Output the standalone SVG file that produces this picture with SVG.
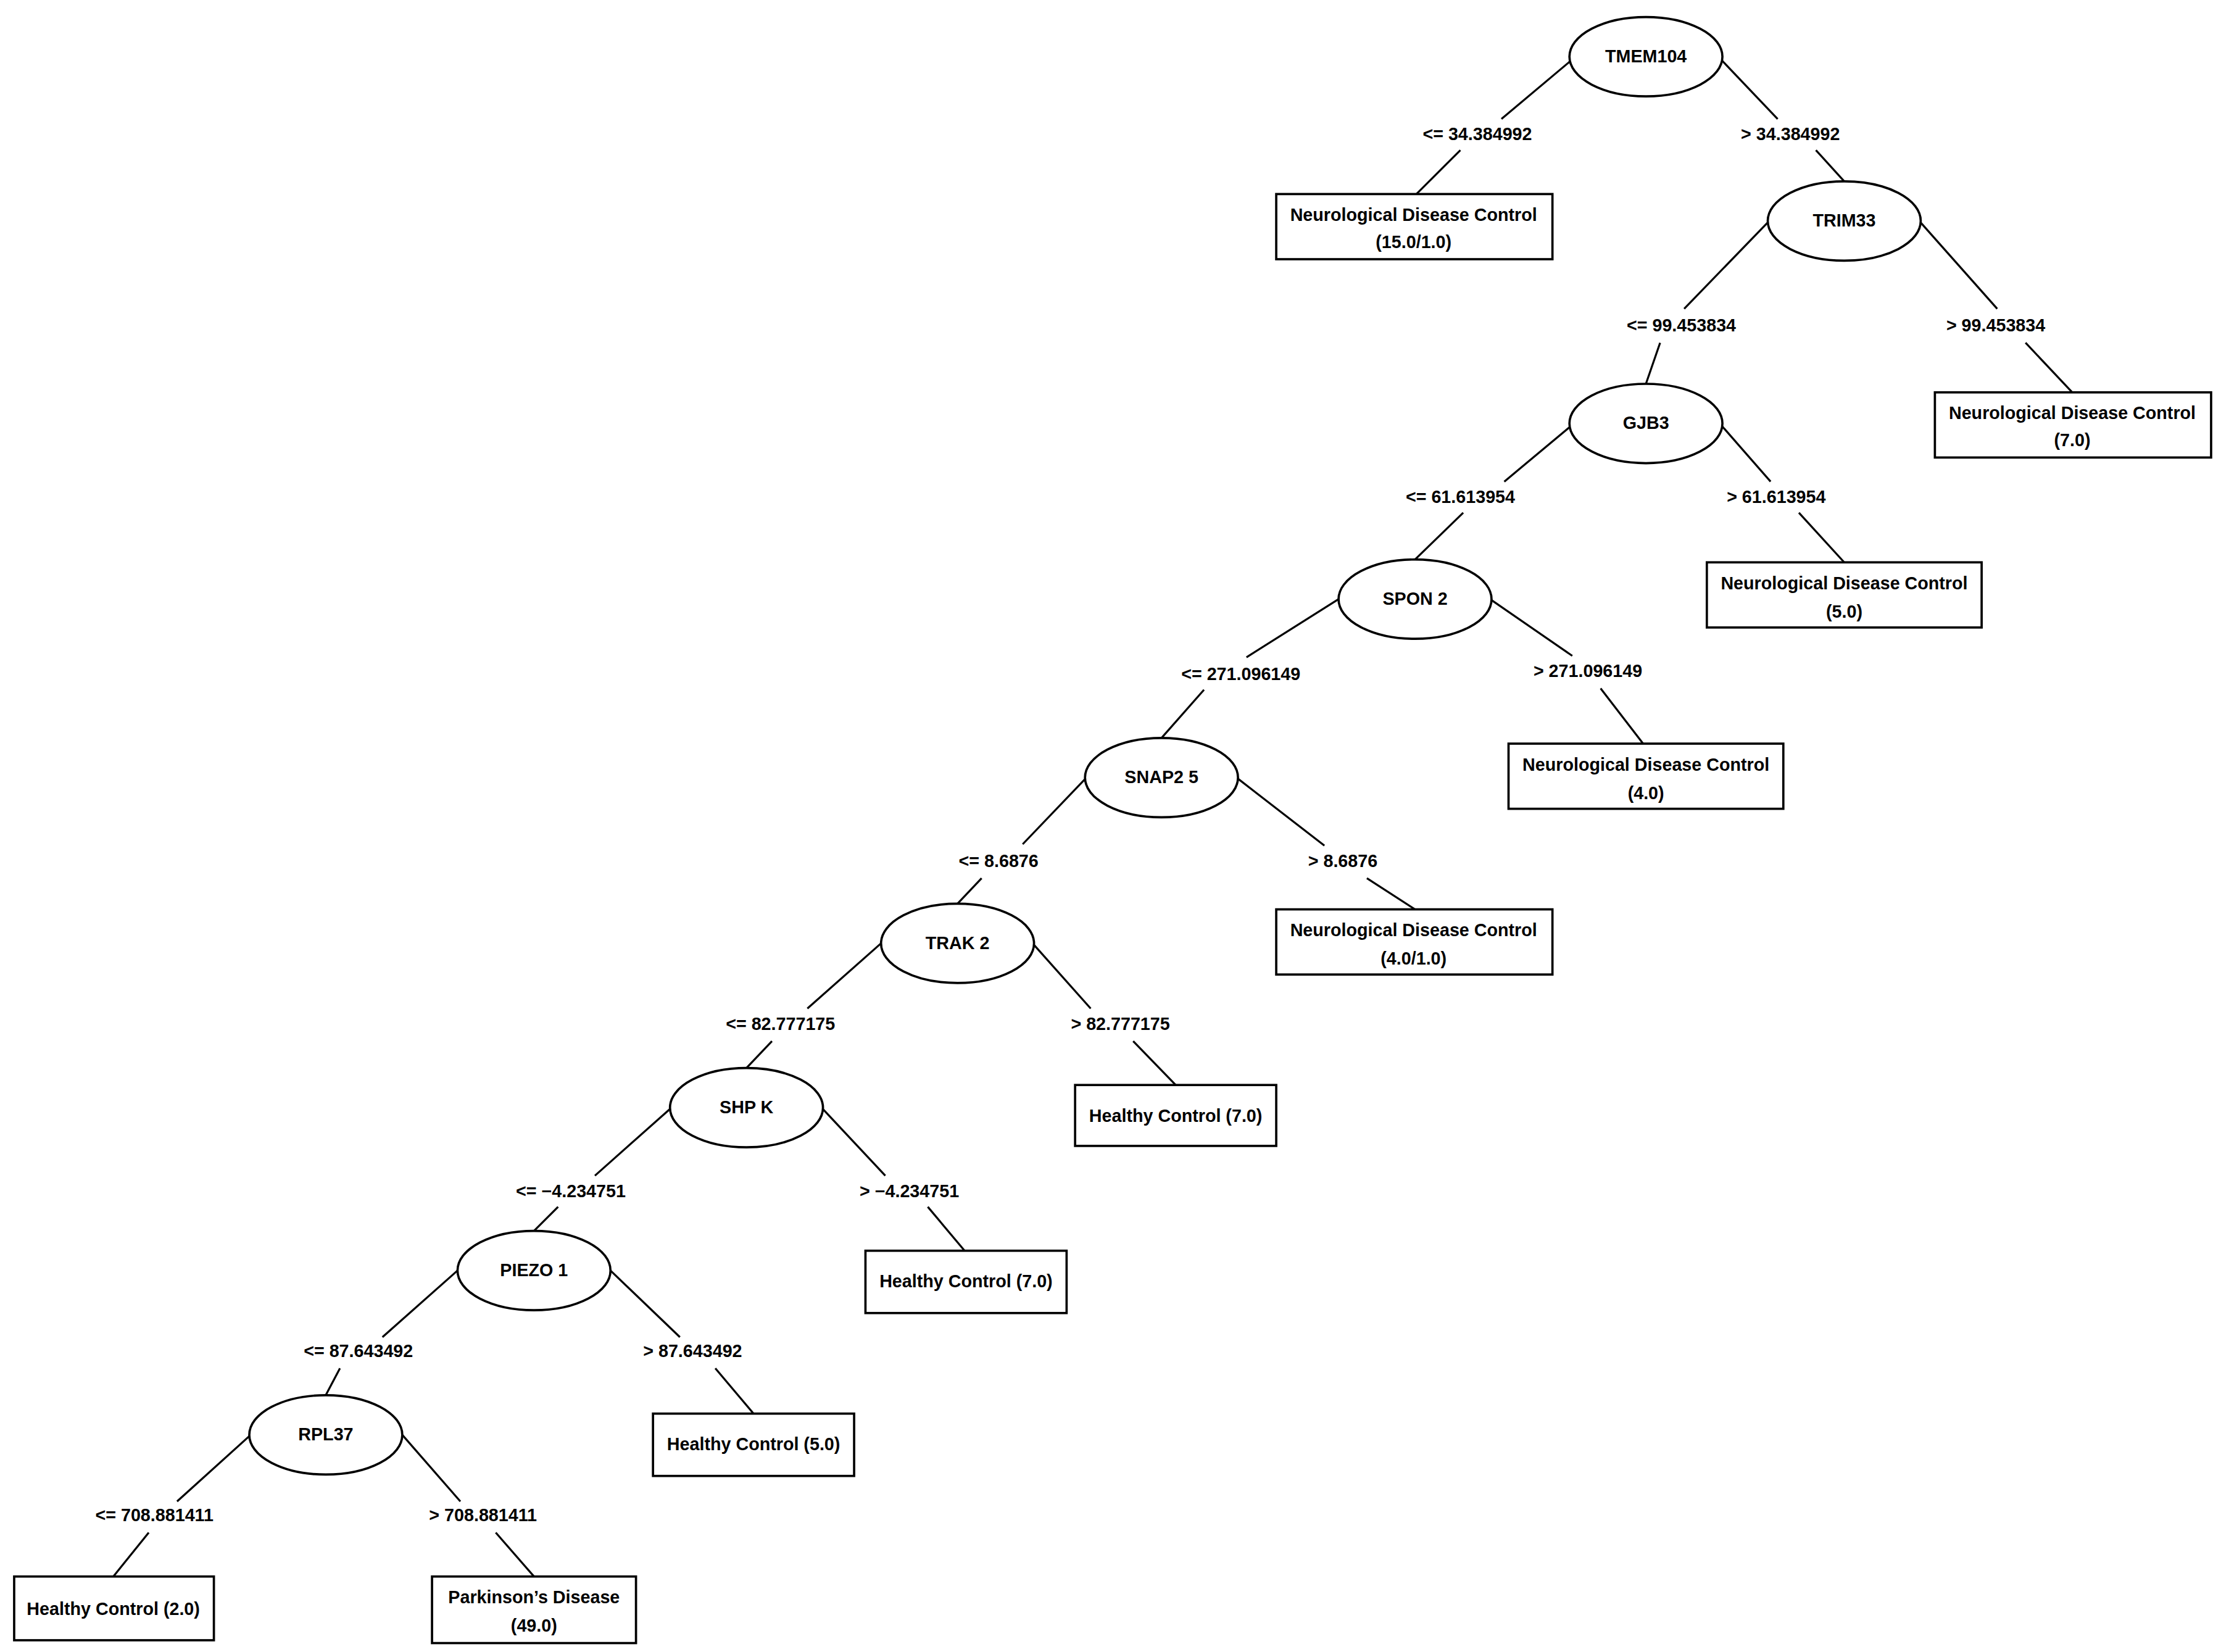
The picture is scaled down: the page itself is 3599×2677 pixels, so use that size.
<svg xmlns="http://www.w3.org/2000/svg" width="3599" height="2677" viewBox="0 0 3599 2677">
<style>
.n ellipse,.n rect{fill:#fff;stroke:#000;stroke-width:1.6}
#edges line{stroke:#000;stroke-width:1.4}
text{font-family:"Liberation Sans Narrow","Liberation Sans",Arial,sans-serif;font-weight:bold;font-size:12.5px;text-anchor:middle;fill:#000}
</style>
<rect width="3599" height="2677" fill="#fff"/>
<g transform="scale(2.2953)">
<g id="edges">
<line x1="1110" y1="42" x2="1060" y2="84"/><line x1="1031" y1="106" x2="1000" y2="137"/>
<line x1="1215" y1="42" x2="1255" y2="84"/><line x1="1282" y1="106" x2="1302" y2="128"/>
<line x1="1249" y1="156" x2="1189" y2="218"/><line x1="1172" y1="242" x2="1162" y2="271"/>
<line x1="1355" y1="156" x2="1410" y2="218"/><line x1="1430" y1="242" x2="1463" y2="277"/>
<line x1="1110" y1="300" x2="1062" y2="340"/><line x1="1033" y1="362" x2="999" y2="395"/>
<line x1="1215" y1="300" x2="1250" y2="340"/><line x1="1270" y1="362" x2="1302" y2="397"/>
<line x1="945" y1="423" x2="880" y2="464"/><line x1="850" y1="487" x2="820" y2="521"/>
<line x1="1052" y1="423" x2="1110" y2="463"/><line x1="1130" y1="486" x2="1160" y2="525"/>
<line x1="767" y1="549" x2="722" y2="596"/><line x1="693" y1="620" x2="676" y2="638"/>
<line x1="873" y1="549" x2="935" y2="597"/><line x1="965" y1="620" x2="999" y2="642"/>
<line x1="622" y1="666" x2="570" y2="712"/><line x1="545" y1="735" x2="527" y2="754"/>
<line x1="729" y1="666" x2="770" y2="712"/><line x1="800" y1="735" x2="830" y2="766"/>
<line x1="474" y1="782" x2="420" y2="830"/><line x1="394" y1="852" x2="377" y2="869"/>
<line x1="580" y1="782" x2="625" y2="830"/><line x1="655" y1="852" x2="681" y2="883"/>
<line x1="323" y1="897" x2="270" y2="944"/><line x1="240" y1="966" x2="230" y2="985"/>
<line x1="431" y1="897" x2="480" y2="944"/><line x1="505" y1="966" x2="532" y2="998"/>
<line x1="177" y1="1013" x2="125" y2="1060"/><line x1="105" y1="1082" x2="80" y2="1113"/>
<line x1="284" y1="1013" x2="325" y2="1060"/><line x1="350" y1="1082" x2="377" y2="1113"/>
</g>
<g id="labels">
<text x="1043" y="99">&lt;= 34.384992</text><text x="1264" y="99">&gt; 34.384992</text>
<text x="1187" y="234">&lt;= 99.453834</text><text x="1409" y="234">&gt; 99.453834</text>
<text x="1031" y="355">&lt;= 61.613954</text><text x="1254" y="355">&gt; 61.613954</text>
<text x="876" y="480">&lt;= 271.096149</text><text x="1121" y="478">&gt; 271.096149</text>
<text x="705" y="612">&lt;= 8.6876</text><text x="948" y="612">&gt; 8.6876</text>
<text x="551" y="727">&lt;= 82.777175</text><text x="791" y="727">&gt; 82.777175</text>
<text x="403" y="845">&lt;= −4.234751</text><text x="642" y="845">&gt; −4.234751</text>
<text x="253" y="958">&lt;= 87.643492</text><text x="489" y="958">&gt; 87.643492</text>
<text x="109" y="1074">&lt;= 708.881411</text><text x="341" y="1074">&gt; 708.881411</text>
</g>
<g id="n-tmem104" class="n"><ellipse cx="1162" cy="40" rx="54" ry="28"/><text x="1162" y="44">TMEM104</text></g>
<g id="n-trim33" class="n"><ellipse cx="1302" cy="156" rx="54" ry="28"/><text x="1302" y="160">TRIM33</text></g>
<g id="n-gjb3" class="n"><ellipse cx="1162" cy="299" rx="54" ry="28"/><text x="1162" y="303">GJB3</text></g>
<g id="n-spon2" class="n"><ellipse cx="999" cy="423" rx="54" ry="28"/><text x="999" y="427">SPON 2</text></g>
<g id="n-snap25" class="n"><ellipse cx="820" cy="549" rx="54" ry="28"/><text x="820" y="553">SNAP2 5</text></g>
<g id="n-trak2" class="n"><ellipse cx="676" cy="666" rx="54" ry="28"/><text x="676" y="670">TRAK 2</text></g>
<g id="n-shpk" class="n"><ellipse cx="527" cy="782" rx="54" ry="28"/><text x="527" y="786">SHP K</text></g>
<g id="n-piezo1" class="n"><ellipse cx="377" cy="897" rx="54" ry="28"/><text x="377" y="901">PIEZO 1</text></g>
<g id="n-rpl37" class="n"><ellipse cx="230" cy="1013" rx="54" ry="28"/><text x="230" y="1017">RPL37</text></g>
<g id="l1" class="n"><rect x="901" y="137" width="195" height="46"/><text x="998" y="156">Neurological Disease Control</text><text x="998" y="175">(15.0/1.0)</text></g>
<g id="l2" class="n"><rect x="1366" y="277" width="195" height="46"/><text x="1463" y="296">Neurological Disease Control</text><text x="1463" y="315">(7.0)</text></g>
<g id="l3" class="n"><rect x="1205" y="397" width="194" height="46"/><text x="1302" y="416">Neurological Disease Control</text><text x="1302" y="436">(5.0)</text></g>
<g id="l4" class="n"><rect x="1065" y="525" width="194" height="46"/><text x="1162" y="544">Neurological Disease Control</text><text x="1162" y="564">(4.0)</text></g>
<g id="l5" class="n"><rect x="901" y="642" width="195" height="46"/><text x="998" y="661">Neurological Disease Control</text><text x="998" y="681">(4.0/1.0)</text></g>
<g id="l6" class="n"><rect x="759" y="766" width="142" height="43"/><text x="830" y="792">Healthy Control (7.0)</text></g>
<g id="l7" class="n"><rect x="611" y="883" width="142" height="44"/><text x="682" y="909">Healthy Control (7.0)</text></g>
<g id="l8" class="n"><rect x="461" y="998" width="142" height="44"/><text x="532" y="1024">Healthy Control (5.0)</text></g>
<g id="l9" class="n"><rect x="10" y="1113" width="141" height="45"/><text x="80" y="1140">Healthy Control (2.0)</text></g>
<g id="l10" class="n"><rect x="305" y="1113" width="144" height="47"/><text x="377" y="1132">Parkinson’s Disease</text><text x="377" y="1152">(49.0)</text></g>
</g>
</svg>
